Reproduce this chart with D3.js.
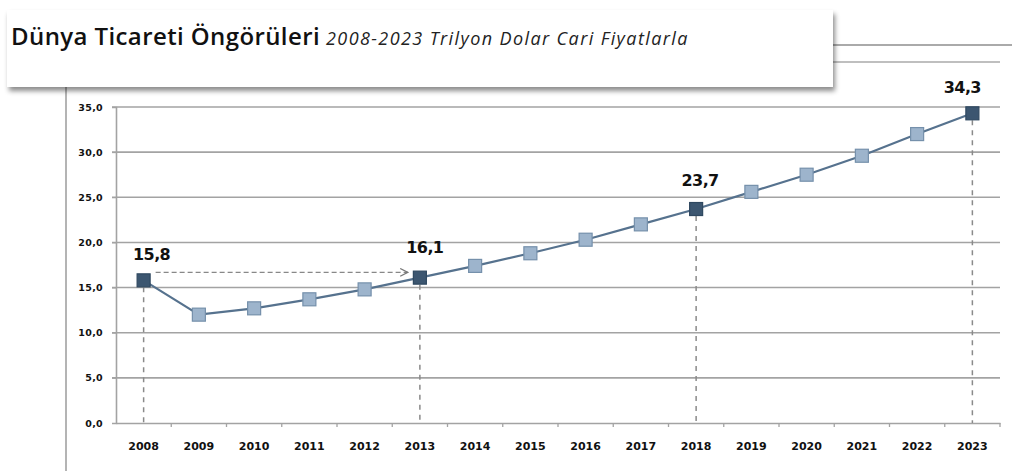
<!DOCTYPE html>
<html><head><meta charset="utf-8">
<script src="https://cdn.jsdelivr.net/npm/d3@7"></script>
<style>body{margin:0;background:#fff}svg{display:block}</style>
</head><body>
<svg id="c" width="1012" height="471"></svg>
<script>
const years = ["2008","2009","2010","2011","2012","2013","2014","2015","2016","2017","2018","2019","2020","2021","2022","2023"];
const values = [15.8, 12.0, 12.7, 13.7, 14.8, 16.1, 17.4, 18.8, 20.3, 22.0, 23.7, 25.6, 27.5, 29.6, 32.0, 34.3];
const highlighted = ["2008","2013","2018","2023"];
const labelText = ["15,8","16,1","23,7","34,3"];
const yTicks = [0,5,10,15,20,25,30,35];
const title = "Dünya Ticareti Öngörüleri";
const subtitle = "2008-2023 Trilyon Dolar Cari Fiyatlarla";

(function(){
const svg = d3.select("#c");
const pL = 116, pR = 1000, pT = 107, pB = 423;
const x = d3.scaleBand().domain(years).range([pL, pR]);
const y = d3.scaleLinear().domain([0, 35]).range([pB, pT]);
const cx = d => x(d) + x.bandwidth()/2;

const defs = svg.append("defs");
const f = defs.append("filter").attr("id","sh").attr("x","-5%").attr("y","-20%").attr("width","110%").attr("height","160%");
f.append("feDropShadow").attr("dx",2).attr("dy",4).attr("stdDeviation",2.5).attr("flood-color","#000").attr("flood-opacity",0.45);
defs.append("marker").attr("id","arr").attr("viewBox","0 0 10 10").attr("refX",9).attr("refY",5)
  .attr("markerWidth",8).attr("markerHeight",8).attr("orient","auto")
  .append("path").attr("d","M1,1 L9,5 L1,9").attr("fill","none").attr("stroke","#777").attr("stroke-width",1.3);

// background frame lines
svg.append("line").attr("x1",66).attr("x2",66).attr("y1",80).attr("y2",471).attr("stroke","#b4b4b4").attr("stroke-width",2);
svg.append("line").attr("x1",820).attr("x2",1012).attr("y1",45).attr("y2",45).attr("stroke","#aaa").attr("stroke-width",2);
svg.append("line").attr("x1",820).attr("x2",1000).attr("y1",62).attr("y2",62).attr("stroke","#aaa").attr("stroke-width",1.5);

// gridlines
svg.append("g").selectAll("line").data(yTicks.filter(d=>d>0)).join("line")
  .attr("x1",pL-4).attr("x2",pR).attr("y1",d=>y(d)).attr("y2",d=>y(d))
  .attr("stroke","#a3a3a3").attr("stroke-width",1.6);

// y axis
const ya = svg.append("g").attr("transform",`translate(${pL},0)`)
  .call(d3.axisLeft(y).tickValues(yTicks).tickSize(4).tickFormat(d=>d3.format(".1f")(d).replace(".",",")));
ya.select(".domain").attr("stroke","#a3a3a3").attr("stroke-width",1.6);
ya.selectAll(".tick line").attr("stroke","#a3a3a3");
ya.selectAll("text").attr("x",-13).attr("font-family","DejaVu Sans").attr("font-weight","bold").attr("font-size",9.5).attr("letter-spacing",0.3).attr("fill","#111");

// x axis
const xa = svg.append("g").attr("transform",`translate(0,${pB})`)
  .call(d3.axisBottom(x).tickSize(0).tickPadding(19));
xa.select(".domain").attr("stroke","#a3a3a3").attr("stroke-width",1.6);
xa.selectAll("text").attr("font-family","DejaVu Sans").attr("font-weight","bold").attr("font-size",11).attr("fill","#111");
svg.append("g").selectAll("line").data(years.slice(1).concat(["end"])).join("line")
  .attr("x1",d=>d==="end"?pR:x(d)).attr("x2",d=>d==="end"?pR:x(d))
  .attr("y1",pB).attr("y2",pB+4).attr("stroke","#a3a3a3").attr("stroke-width",1.3);

// dashed verticals
const idx = highlighted.map(h=>years.indexOf(h));
svg.append("g").selectAll("line").data(idx).join("line")
  .attr("x1",i=>cx(years[i])).attr("x2",i=>cx(years[i]))
  .attr("y1",i=>y(values[i])+7).attr("y2",pB)
  .attr("stroke","#8a8a8a").attr("stroke-width",1.5).attr("stroke-dasharray","5,5");

// dashed arrow 2008 -> 2013
svg.append("line").attr("x1",cx("2008")+12).attr("x2",cx("2013")-12)
  .attr("y1",y(values[0])-8).attr("y2",y(values[0])-8)
  .attr("stroke","#888").attr("stroke-width",1.2).attr("stroke-dasharray","5,3").attr("marker-end","url(#arr)");

// line
svg.append("path").datum(values).attr("fill","none").attr("stroke","#56728e").attr("stroke-width",2.2)
  .attr("d", d3.line().x((d,i)=>cx(years[i])).y(d=>y(d)));

// markers
const s = 13;
svg.append("g").selectAll("rect").data(values).join("rect")
  .attr("x",(d,i)=>cx(years[i])-s/2).attr("y",d=>y(d)-s/2).attr("width",s).attr("height",s)
  .attr("fill",(d,i)=>highlighted.includes(years[i])?"#3c5670":"#9db4cc")
  .attr("stroke",(d,i)=>highlighted.includes(years[i])?"#2f4860":"#7590ab").attr("stroke-width",1.2);

// labels
const lblOff = [ [8,-20], [5,-25], [4,-23], [-10,-20] ];
svg.append("g").selectAll("text").data(idx).join("text")
  .attr("x",(i,k)=>cx(years[i])+lblOff[k][0]).attr("y",(i,k)=>y(values[i])+lblOff[k][1])
  .attr("text-anchor","middle").attr("font-family","DejaVu Sans").attr("font-weight","bold")
  .attr("font-size",16).attr("letter-spacing",-0.6).attr("fill","#111")
  .text((i,k)=>labelText[k]);

// title box
svg.append("rect").attr("x",7).attr("y",10).attr("width",826).attr("height",77).attr("fill","#fff").attr("filter","url(#sh)");
const t = svg.append("text").attr("x",11).attr("y",45);
t.append("tspan").attr("font-family","Open Sans").attr("font-weight","600").attr("font-size",24).attr("fill","#111").attr("letter-spacing",0.4).text(title);
t.append("tspan").attr("dx",6).attr("font-family","Open Sans").attr("font-style","italic").attr("font-size",18).attr("fill","#222").attr("letter-spacing",1.4).text(subtitle);
})();
</script>
</body></html>
